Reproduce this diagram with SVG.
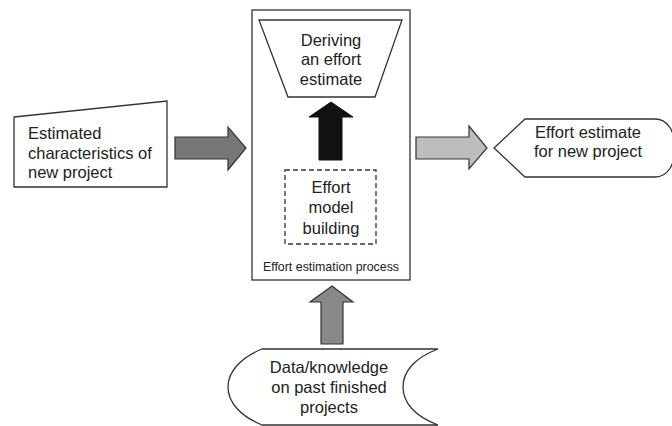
<svg xmlns="http://www.w3.org/2000/svg" width="672" height="426" viewBox="0 0 672 426">
<style>
.shape{fill:#fff;stroke:#333;stroke-width:1.3}
.t{font-family:"Liberation Sans",Arial,sans-serif;font-size:16.5px;fill:#222}
.tc{text-anchor:middle}
.arr{stroke:#333;stroke-width:1.2;stroke-linejoin:miter}
</style>
<rect width="672" height="426" fill="#fff"/>
<g id="process">
<rect class="shape" x="252" y="10" width="158" height="270"/>
<text class="t" x="331" y="271" text-anchor="middle" style="font-size:12.4px">Effort estimation process</text>
</g>
<g id="deriving">
<path class="shape" d="M259,20 L402,20 L375,97 L288,97 Z"/>
<text class="t tc" x="331" y="46">Deriving</text>
<text class="t tc" x="331" y="65">an effort</text>
<text class="t tc" x="331" y="85">estimate</text>
</g>
<g id="model-building">
<rect x="285" y="170" width="91" height="74" fill="#fff" stroke="#333" stroke-width="1.3" stroke-dasharray="5,3"/>
<text class="t tc" x="331" y="193">Effort</text>
<text class="t tc" x="331" y="213">model</text>
<text class="t tc" x="331" y="234">building</text>
</g>
<g id="input">
<path class="shape" d="M14,117 L167,101 L167,187 L14,187 Z"/>
<text class="t" x="28" y="139">Estimated</text>
<text class="t" x="28" y="159">characteristics of</text>
<text class="t" x="28" y="178">new project</text>
</g>
<g id="output">
<path class="shape" d="M494,148 L525,119 L655,119 C668,119 675,132 675,148 C675,164 668,177 655,177 L525,177 Z"/>
<text class="t tc" x="588" y="138">Effort estimate</text>
<text class="t tc" x="588" y="157">for new project</text>
</g>
<g id="data">
<path class="shape" d="M262,349 L438,349 C414,358 403,372 403,387 C403,402 414,416 438,425 L262,425 C240,416 228,402 228,387 C228,372 240,358 262,349 Z"/>
<text class="t tc" x="329" y="373">Data/knowledge</text>
<text class="t tc" x="329" y="393">on past finished</text>
<text class="t tc" x="329" y="413">projects</text>
</g>
<g id="connectors">
<path id="arrow-input" class="arr" fill="#777" d="M175,137 L228,137 L228,127 L246,148 L228,170 L228,159 L175,159 Z"/>
<path id="arrow-output" class="arr" fill="#bdbdbd" d="M416,137 L469,137 L469,126 L487,148 L469,169 L469,159 L416,159 Z"/>
<path id="arrow-data" class="arr" fill="#888" d="M321,344 L321,302 L310,302 L332,286 L353,302 L343,302 L343,344 Z"/>
<path id="arrow-inner" fill="#111" stroke="#111" d="M319,160 L319,117 L309,117 L331,102 L353,117 L342,117 L342,160 Z"/>
</g>
</svg>
